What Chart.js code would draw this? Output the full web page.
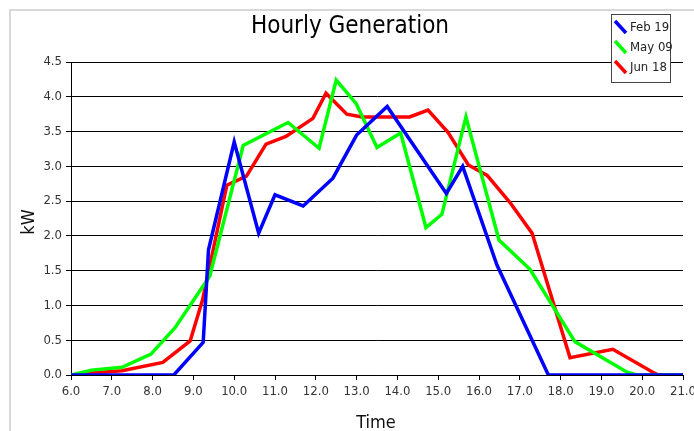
<!DOCTYPE html>
<html>
<head>
<meta charset="utf-8">
<script src="https://cdn.jsdelivr.net/npm/chart.js@4"></script>
<style>
html,body{margin:0;padding:0;background:#fff;}
#wrap{position:relative;width:694px;height:431px;}
canvas{display:block;}
</style>
</head>
<body>
<div id="wrap"><canvas id="c" width="694" height="431"></canvas></div>
<script>
const seriesNames = ["Feb 19", "May 09", "Jun 18"];
const seriesColors = ["#0000ff", "#00ff00", "#ff0000"];

const feb19Hours = [6.0, 8.52, 9.24, 9.37, 10.0, 10.6, 11.0, 11.69, 12.42, 13.0, 13.75, 15.2, 15.6, 16.44, 17.7, 21.0];
const feb19kW    = [0, 0, 0.47, 1.8, 3.35, 2.04, 2.59, 2.43, 2.83, 3.45, 3.86, 2.61, 3.0, 1.58, 0, 0];

const may09Hours = [6.0, 6.5, 7.25, 7.96, 8.55, 9.4, 10.22, 11.32, 12.08, 12.5, 12.99, 13.5, 14.08, 14.7, 15.09, 15.68, 16.49, 17.25, 18.35, 19.63, 19.87, 21.0];
const may09kW    = [0, 0.07, 0.11, 0.3, 0.68, 1.42, 3.3, 3.63, 3.26, 4.24, 3.9, 3.27, 3.48, 2.12, 2.31, 3.71, 1.94, 1.52, 0.48, 0.04, 0, 0];

const jun18Hours = [6.0, 6.5, 7.25, 8.25, 8.92, 9.22, 9.82, 10.3, 10.78, 11.27, 11.93, 12.25, 12.76, 13.13, 14.3, 14.75, 15.24, 15.74, 16.2, 16.76, 17.3, 18.23, 19.28, 20.26, 20.4, 21.0];
const jun18kW    = [0, 0.03, 0.06, 0.18, 0.49, 1.07, 2.73, 2.86, 3.32, 3.43, 3.69, 4.05, 3.75, 3.71, 3.71, 3.81, 3.49, 3.02, 2.87, 2.48, 2.04, 0.25, 0.37, 0.04, 0, 0];

const xTicks = [6,7,8,9,10,11,12,13,14,15,16,17,18,19,20,21];
const yTicks = [0,0.5,1,1.5,2,2.5,3,3.5,4,4.5];

const titleText = "Hourly Generation";
const xTitle = "Time";
const yTitle = "kW";

function pts(h, v){ return h.map((x,i)=>({x:x, y:v[i]})); }
const allSeries = [pts(feb19Hours, feb19kW), pts(may09Hours, may09kW), pts(jun18Hours, jun18kW)];

const FONT = "'DejaVu Sans Condensed', 'DejaVu Sans', sans-serif";

const decor = {
  id: 'decor',
  beforeDraw(chart){
    const ctx = chart.ctx;
    ctx.save();
    ctx.fillStyle = '#fff';
    ctx.fillRect(0,0,chart.width,chart.height);
    ctx.strokeStyle = '#d8d8d8';
    ctx.lineWidth = 2;
    ctx.beginPath();
    ctx.moveTo(10, 431); ctx.lineTo(10, 10); ctx.lineTo(694, 10);
    ctx.stroke();
    ctx.restore();
  },
  afterDraw(chart){
    const ctx = chart.ctx;
    const a = chart.chartArea;
    ctx.save();
    // title
    ctx.fillStyle = '#000';
    ctx.font = "24px " + FONT;
    ctx.textAlign = 'center';
    ctx.textBaseline = 'middle';
    ctx.fillText(titleText, 350, 27);
    // axis titles
    ctx.font = "18px " + FONT;
    ctx.fillStyle = '#111';
    ctx.fillText(xTitle, 376, 423);
    ctx.save();
    ctx.translate(29, 222);
    ctx.rotate(-Math.PI/2);
    ctx.fillText(yTitle, 0, 0);
    ctx.restore();
    // legend box
    const bx = 611.5, by = 14.5, bw = 59, bh = 68;
    ctx.fillStyle = '#fff';
    ctx.fillRect(bx, by, bw, bh);
    ctx.strokeStyle = '#444';
    ctx.lineWidth = 1;
    ctx.strokeRect(bx, by, bw, bh);
    ctx.font = "13px " + FONT;
    ctx.textAlign = 'left';
    ctx.fillStyle = '#222';
    for (let i = 0; i < seriesNames.length; i++){
      const cy = 28 + i*20;
      ctx.strokeStyle = seriesColors[i];
      ctx.lineWidth = 3.5;
      ctx.beginPath();
      ctx.moveTo(615, cy - 7);
      ctx.lineTo(626, cy + 5);
      ctx.stroke();
      ctx.fillText(seriesNames[i], 630, cy);
    }
    ctx.restore();
  }
};

new Chart(document.getElementById('c'), {
  type: 'line',
  data: {
    datasets: allSeries.map((d,i)=>({
      label: seriesNames[i],
      data: d,
      borderColor: seriesColors[i],
      backgroundColor: seriesColors[i],
      borderWidth: 3.5,
      pointRadius: 0,
      tension: 0,
      fill: false
    }))
  },
  options: {
    responsive: false,
    animation: false,
    devicePixelRatio: 1,
    layout: { padding: { left: 0, right: 11, top: 62, bottom: 0 } },
    plugins: { legend: { display: false }, title: { display: false }, tooltip: { enabled: false } },
    scales: {
      x: {
        type: 'linear',
        min: 6, max: 21,
        afterBuildTicks(s){ s.ticks = xTicks.map(v=>({value:v})); },
        afterFit(s){ s.height = 56; s.paddingLeft = 0; s.paddingRight = 0; },
        grid: { display: true, drawOnChartArea: false, drawTicks: true, tickLength: 5, color: '#000' },
        border: { display: true, color: '#000', width: 1 },
        ticks: { color: '#333', font: { family: FONT, size: 13 }, padding: 4, maxRotation: 0, autoSkip: false,
                 callback: v => Number(v).toFixed(1) }
      },
      y: {
        type: 'linear',
        min: 0, max: 4.5,
        afterBuildTicks(s){ s.ticks = yTicks.map(v=>({value:v})); },
        afterFit(s){ s.width = 71; s.paddingTop = 0; s.paddingBottom = 0; },
        grid: { display: true, drawOnChartArea: true, drawTicks: true, tickLength: 5, color: '#000' },
        border: { display: true, color: '#000', width: 1 },
        ticks: { color: '#333', font: { family: FONT, size: 13 }, padding: 4, autoSkip: false,
                 callback: v => Number(v).toFixed(1) }
      }
    }
  },
  plugins: [decor]
});
</script>
</body>
</html>
